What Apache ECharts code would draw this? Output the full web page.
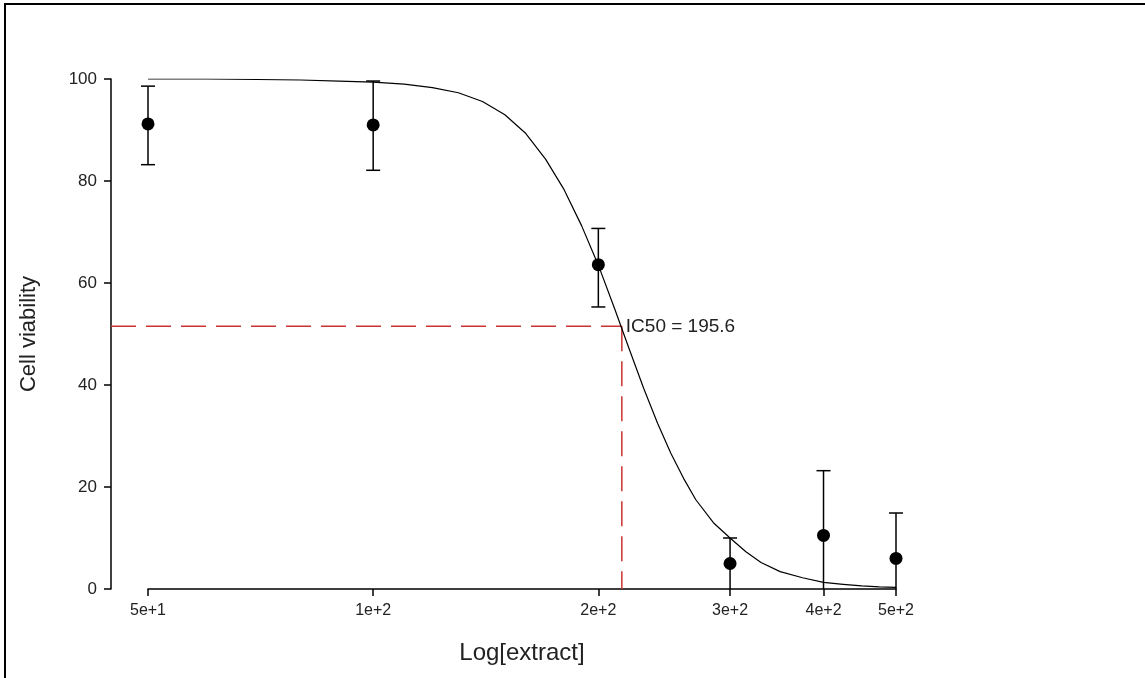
<!DOCTYPE html>
<html><head><meta charset="utf-8">
<script src="https://cdn.jsdelivr.net/npm/echarts@6/dist/echarts.min.js"></script>
<style>
html,body{margin:0;padding:0;background:#fff;}
#chart{position:absolute;left:0;top:0;width:1145px;height:678px;}
#frame{position:absolute;left:4px;top:3px;width:1141px;height:675px;border-left:2px solid #000;border-top:2px solid #000;box-sizing:border-box;pointer-events:none;}
</style></head><body>
<div id="chart"></div><div id="frame"></div>
<script>
// ---- data ----
const xTickValues = [50, 100, 200, 300, 400, 500];
const xTickLabels = ['5e+1', '1e+2', '2e+2', '3e+2', '4e+2', '5e+2'];
const yTickValues = [0, 20, 40, 60, 80, 100];

const doseX = [50, 100, 200, 300, 400, 500];
const viabilityMean = [91.2, 91.0, 63.6, 5.0, 10.5, 6.0];
const errUpper = [98.6, 99.6, 70.7, 10.0, 23.2, 14.9];
const errLower = [83.2, 82.1, 55.3, -0.1, -2.2, -2.9];

const curveX = [50, 60, 70, 80, 90, 100, 110, 120, 130, 140, 150, 160, 170, 180, 190, 200, 210, 220, 230, 240, 250, 260, 270, 285, 300, 315, 330, 350, 375, 400, 425, 450, 475, 500];
const curveY = [100, 100, 99.9, 99.8, 99.6, 99.4, 99.0, 98.3, 97.3, 95.6, 93.0, 89.3, 84.3, 78.3, 71.2, 63.5, 55.2, 47.0, 39.3, 32.5, 26.6, 21.7, 17.5, 13.0, 10.0, 7.3, 5.2, 3.4, 2.2, 1.3, 0.9, 0.6, 0.4, 0.3];

const ic50X = 215;
const ic50Y = 51.5;
const ic50Text = 'IC50 = 195.6';

const xTitle = 'Log[extract]';
const yTitle = 'Cell viability';

// ---- chart ----
const yAxisOffset = 37;
const FONT = '"Liberation Sans", Arial, sans-serif';
const lg = v => Math.log10(v);

const chart = echarts.init(document.getElementById('chart'), null, {renderer: 'canvas'});
const option = {
  animation: false,
  backgroundColor: '#fff',
  grid: {left: 148, right: 249, top: 79, bottom: 89, containLabel: false},
  xAxis: {
    type: 'value',
    min: lg(xTickValues[0]),
    max: lg(xTickValues[xTickValues.length - 1]),
    name: xTitle,
    nameLocation: 'middle',
    nameGap: 52,
    nameTextStyle: {fontSize: 24, fontFamily: FONT, color: '#222'},
    axisLine: {show: true, onZero: false, lineStyle: {color: '#000', width: 1.5}},
    axisTick: {show: true, length: 7, lineStyle: {color: '#000', width: 1.5}, customValues: xTickValues.map(lg)},
    axisLabel: {
      show: true, margin: 14, fontSize: 16, fontFamily: FONT, color: '#222',
      customValues: xTickValues.map(lg),
      showMinLabel: true, showMaxLabel: true,
      formatter: v => {
        const i = xTickValues.findIndex(t => Math.abs(lg(t) - v) < 1e-6);
        return i >= 0 ? xTickLabels[i] : '';
      }
    },
    splitLine: {show: false}
  },
  yAxis: {
    type: 'value',
    min: yTickValues[0],
    max: yTickValues[yTickValues.length - 1],
    interval: 20,
    offset: yAxisOffset,
    name: yTitle,
    nameLocation: 'middle',
    nameGap: 71,
    nameTextStyle: {fontSize: 22, fontFamily: FONT, color: '#222'},
    axisLine: {show: true, lineStyle: {color: '#000', width: 1.5}},
    axisTick: {show: true, length: 7, lineStyle: {color: '#000', width: 1.5}},
    axisLabel: {show: true, margin: 14, fontSize: 17, fontFamily: FONT, color: '#222'},
    splitLine: {show: false}
  },
  series: [
    {
      type: 'line',
      name: 'fit',
      data: curveX.map((x, i) => [lg(x), curveY[i]]),
      smooth: false,
      showSymbol: false,
      symbol: 'none',
      lineStyle: {color: '#000', width: 1.2, join: 'round'},
      z: 2
    },
    {
      type: 'custom',
      name: 'error',
      clip: false,
      data: doseX.map((x, i) => [lg(x), errUpper[i], errLower[i]]),
      encode: {x: 0, y: [1, 2]},
      renderItem: (params, api) => {
        const x = api.value(0), hi = api.value(1), lo = api.value(2);
        const pTop = api.coord([x, hi]);
        const pBot = api.coord([x, Math.max(lo, 0)]);
        const cap = 7;
        const st = {stroke: '#000', lineWidth: 1.5};
        const children = [
          {type: 'line', shape: {x1: pTop[0], y1: pTop[1], x2: pBot[0], y2: pBot[1]}, style: st},
          {type: 'line', shape: {x1: pTop[0] - cap, y1: pTop[1], x2: pTop[0] + cap, y2: pTop[1]}, style: st}
        ];
        if (lo >= 0) {
          children.push({type: 'line', shape: {x1: pBot[0] - cap, y1: pBot[1], x2: pBot[0] + cap, y2: pBot[1]}, style: st});
        }
        return {type: 'group', children};
      },
      z: 3
    },
    {
      type: 'scatter',
      name: 'mean',
      data: doseX.map((x, i) => [lg(x), viabilityMean[i]]),
      symbol: 'circle',
      symbolSize: 13,
      itemStyle: {color: '#000', opacity: 1},
      z: 4
    },
    {
      type: 'custom',
      name: 'ic50',
      clip: false,
      data: [[lg(ic50X), ic50Y]],
      renderItem: (params, api) => {
        const p = api.coord([api.value(0), api.value(1)]);
        const p0 = api.coord([api.value(0), 0]);
        const left = params.coordSys.x - yAxisOffset;
        const st = {stroke: '#cc3333', lineWidth: 1.5, lineDash: [25, 10]};
        return {
          type: 'group',
          children: [
            {type: 'line', shape: {x1: left, y1: p[1], x2: p[0], y2: p[1]}, style: st},
            {type: 'line', shape: {x1: p[0], y1: p[1], x2: p0[0], y2: p0[1]}, style: st},
            {type: 'text', x: p[0] + 4, y: p[1], style: {text: ic50Text, fill: '#222', fontSize: 19, fontFamily: FONT, align: 'left', verticalAlign: 'middle'}}
          ]
        };
      },
      z: 1
    }
  ]
};
chart.setOption(option);
</script>
</body></html>
